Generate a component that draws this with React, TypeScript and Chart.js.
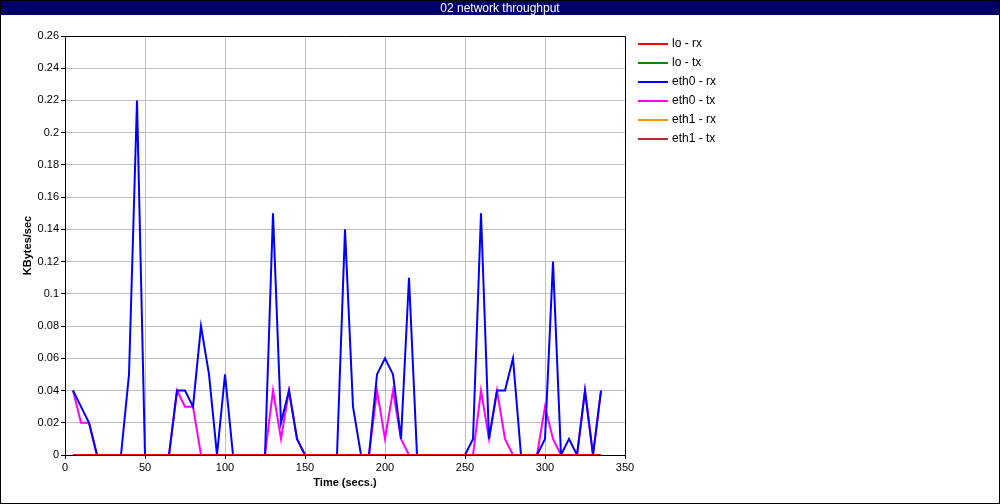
import React, { useEffect, useRef } from "react";
import { Chart, registerables } from "chart.js";

Chart.register(...registerables);

const chartTitle = "02 network throughput";
const xAxisTitle = "Time (secs.)";
const yAxisTitle = "KBytes/sec";

const times = [
  5, 10, 15, 20, 25, 30, 35, 40, 45, 50, 55, 60, 65, 70, 75, 80, 85, 90, 95, 100,
  105, 110, 115, 120, 125, 130, 135, 140, 145, 150, 155, 160, 165, 170, 175, 180,
  185, 190, 195, 200, 205, 210, 215, 220, 225, 230, 235, 240, 245, 250, 255, 260,
  265, 270, 275, 280, 285, 290, 295, 300, 305, 310, 315, 320, 325, 330, 335,
];

const loRx = [
  0, 0, 0, 0, 0, 0, 0, 0, 0, 0, 0, 0, 0, 0, 0, 0, 0, 0, 0, 0,
  0, 0, 0, 0, 0, 0, 0, 0, 0, 0, 0, 0, 0, 0, 0, 0,
  0, 0, 0, 0, 0, 0, 0, 0, 0, 0, 0, 0, 0, 0, 0, 0,
  0, 0, 0, 0, 0, 0, 0, 0, 0, 0, 0, 0, 0, 0, 0,
];
const loTx = [
  0, 0, 0, 0, 0, 0, 0, 0, 0, 0, 0, 0, 0, 0, 0, 0, 0, 0, 0, 0,
  0, 0, 0, 0, 0, 0, 0, 0, 0, 0, 0, 0, 0, 0, 0, 0,
  0, 0, 0, 0, 0, 0, 0, 0, 0, 0, 0, 0, 0, 0, 0, 0,
  0, 0, 0, 0, 0, 0, 0, 0, 0, 0, 0, 0, 0, 0, 0,
];
const eth0Rx = [
  0.04, 0.03, 0.02, 0, 0, 0, 0, 0.05, 0.22, 0, 0, 0, 0, 0.04, 0.04, 0.03, 0.08, 0.05, 0, 0.05,
  0, 0, 0, 0, 0, 0.15, 0.02, 0.04, 0.01, 0, 0, 0, 0, 0, 0.14, 0.03,
  0, 0, 0.05, 0.06, 0.05, 0.01, 0.11, 0, 0, 0, 0, 0, 0, 0, 0.01, 0.15,
  0.01, 0.04, 0.04, 0.06, 0, 0, 0, 0.01, 0.12, 0, 0.01, 0, 0.04, 0, 0.04,
];
const eth0Tx = [
  0.04, 0.02, 0.02, 0, 0, 0, 0, 0, 0, 0, 0, 0, 0, 0.04, 0.03, 0.03, 0, 0, 0, 0,
  0, 0, 0, 0, 0, 0.04, 0.01, 0.04, 0.01, 0, 0, 0, 0, 0, 0, 0,
  0, 0, 0.04, 0.01, 0.04, 0.01, 0, 0, 0, 0, 0, 0, 0, 0, 0, 0.04,
  0.01, 0.04, 0.01, 0, 0, 0, 0, 0.03, 0.01, 0, 0, 0, 0.04, 0, 0.04,
];
const eth1Rx = [
  0, 0, 0, 0, 0, 0, 0, 0, 0, 0, 0, 0, 0, 0, 0, 0, 0, 0, 0, 0,
  0, 0, 0, 0, 0, 0, 0, 0, 0, 0, 0, 0, 0, 0, 0, 0,
  0, 0, 0, 0, 0, 0, 0, 0, 0, 0, 0, 0, 0, 0, 0, 0,
  0, 0, 0, 0, 0, 0, 0, 0, 0, 0, 0, 0, 0, 0, 0,
];
const eth1Tx = [
  0, 0, 0, 0, 0, 0, 0, 0, 0, 0, 0, 0, 0, 0, 0, 0, 0, 0, 0, 0,
  0, 0, 0, 0, 0, 0, 0, 0, 0, 0, 0, 0, 0, 0, 0, 0,
  0, 0, 0, 0, 0, 0, 0, 0, 0, 0, 0, 0, 0, 0, 0, 0,
  0, 0, 0, 0, 0, 0, 0, 0, 0, 0, 0, 0, 0, 0, 0,
];

const seriesLabels = ["lo - rx", "lo - tx", "eth0 - rx", "eth0 - tx", "eth1 - rx", "eth1 - tx"];
const seriesColors = ["#ff0000", "#008c00", "#0000ff", "#ff00ff", "#ee9a00", "#a83232"];
const seriesValues = [loRx, loTx, eth0Rx, eth0Tx, eth1Rx, eth1Tx];

const FONT = "'Liberation Sans', Arial, sans-serif";

const framePlugin = {
  id: "frame",
  beforeDraw(chart: any) {
    const { ctx, width, height } = chart;
    ctx.save();
    ctx.fillStyle = "#ffffff";
    ctx.fillRect(0, 0, width, height);
    ctx.strokeStyle = "#000000";
    ctx.lineWidth = 1;
    ctx.strokeRect(0.5, 0.5, width - 1, height - 1);
    ctx.fillStyle = "#000066";
    ctx.fillRect(1, 1, width - 2, 14);
    ctx.fillStyle = "#ffffff";
    ctx.font = `12px ${FONT}`;
    ctx.textAlign = "center";
    ctx.textBaseline = "middle";
    ctx.fillText(chartTitle, width / 2, 8.5);
    ctx.restore();
  },
  beforeDatasetsDraw(chart: any) {
    const { ctx, chartArea } = chart;
    ctx.save();
    ctx.strokeStyle = "#000000";
    ctx.lineWidth = 1;
    ctx.beginPath();
    ctx.moveTo(Math.round(chartArea.left) + 0.5, Math.round(chartArea.top) + 0.5);
    ctx.lineTo(Math.round(chartArea.right) + 0.5, Math.round(chartArea.top) + 0.5);
    ctx.lineTo(Math.round(chartArea.right) + 0.5, Math.round(chartArea.bottom) + 0.5);
    ctx.stroke();
    ctx.restore();
  },
  afterDraw(chart: any) {
    const { ctx, chartArea } = chart;
    const x0 = chartArea.right + 13;
    ctx.save();
    ctx.font = `12px ${FONT}`;
    ctx.textAlign = "left";
    ctx.textBaseline = "middle";
    chart.data.datasets.forEach((ds: any, i: number) => {
      const y = 44 + i * 19;
      ctx.strokeStyle = ds.borderColor;
      ctx.lineWidth = 2;
      ctx.beginPath();
      ctx.moveTo(x0, y);
      ctx.lineTo(x0 + 30, y);
      ctx.stroke();
      ctx.fillStyle = "#000000";
      ctx.fillText(ds.label, x0 + 34, y);
    });
    ctx.restore();
  },
};

export default function App() {
  const canvasRef = useRef<HTMLCanvasElement | null>(null);

  useEffect(() => {
    if (!canvasRef.current) return;
    Chart.defaults.font.family = FONT;
    Chart.defaults.font.size = 11;
    Chart.defaults.color = "#000000";
    const chart = new Chart(canvasRef.current, {
      type: "line",
      data: {
        datasets: seriesLabels.map((label, i) => ({
          label,
          data: times.map((t, j) => ({ x: t, y: seriesValues[i][j] })),
          borderColor: seriesColors[i],
          backgroundColor: seriesColors[i],
          borderWidth: 2,
          pointRadius: 0,
          tension: 0,
          fill: false,
        })),
      },
      options: {
        animation: false,
        responsive: false,
        maintainAspectRatio: false,
        layout: { padding: { top: 36, right: 375, bottom: 0, left: 0 } },
        plugins: {
          legend: { display: false },
          title: { display: false },
          tooltip: { enabled: false },
        },
        scales: {
          x: {
            type: "linear",
            min: 0,
            max: 350,
            afterFit: (scale: any) => {
              scale.height = 49;
            },
            ticks: { stepSize: 50, padding: 2, maxRotation: 0, font: { size: 11 } },
            grid: { color: "#c0c0c0", tickColor: "#000000", tickLength: 4, lineWidth: 1 },
            border: { color: "#000000", width: 1 },
            title: {
              display: true,
              text: xAxisTitle,
              font: { size: 11, weight: "bold" },
              padding: { top: 0, bottom: 14 },
            },
          },
          y: {
            type: "linear",
            min: 0,
            max: 0.26,
            afterFit: (scale: any) => {
              scale.width = 65;
            },
            ticks: {
              stepSize: 0.02,
              padding: 2,
              font: { size: 11 },
              callback: (v: any) => String(Math.round(Number(v) * 100) / 100),
            },
            grid: { color: "#c0c0c0", tickColor: "#000000", tickLength: 4, lineWidth: 1 },
            border: { color: "#000000", width: 1 },
            title: {
              display: true,
              text: yAxisTitle,
              font: { size: 11, weight: "bold" },
              padding: { top: 21, bottom: 0 },
            },
          },
        },
      },
      plugins: [framePlugin],
    } as any);
    return () => chart.destroy();
  }, []);

  return (
    <div style={{ position: "absolute", left: 0, top: 0, width: 1000, height: 504 }}>
      <canvas ref={canvasRef} width={1000} height={504} style={{ display: "block", width: 1000, height: 504 }} />
    </div>
  );
}
